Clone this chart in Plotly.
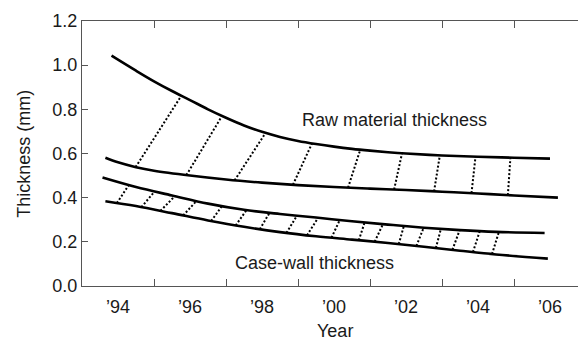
import numpy as np
import plotly.graph_objects as go

# Raw material thickness band (upper and lower edge), mm by year
raw_top_year = [1993.82, 1994.5, 1995.0, 1995.5, 1996.0, 1996.5, 1997.0, 1997.5, 1998.0,
                1998.5, 1999.0, 1999.5, 2000.0, 2000.5, 2001.0, 2001.5, 2002.0, 2003.0,
                2004.0, 2005.0, 2006.0]
raw_top_val = [1.043, 0.975, 0.927, 0.883, 0.842, 0.800, 0.762, 0.727, 0.698,
               0.675, 0.657, 0.643, 0.631, 0.621, 0.613, 0.606, 0.600, 0.591,
               0.585, 0.581, 0.577]

raw_bot_year = [1993.65, 1994.0, 1994.5, 1995.0, 1996.0, 1997.0, 1998.0, 1999.0, 2000.0,
                2001.0, 2002.0, 2003.0, 2004.0, 2005.0, 2006.22]
raw_bot_val = [0.581, 0.560, 0.538, 0.522, 0.500, 0.482, 0.468, 0.457, 0.448,
               0.441, 0.435, 0.427, 0.419, 0.410, 0.400]

# Case-wall thickness band (upper and lower edge)
case_top_year = [1993.57, 1994.5, 1995.5, 1996.5, 1997.5, 1998.5, 1999.5, 2000.5,
                 2001.5, 2002.5, 2003.5, 2004.5, 2005.85]
case_top_val = [0.491, 0.448, 0.410, 0.373, 0.345, 0.326, 0.310, 0.293,
                0.278, 0.264, 0.253, 0.245, 0.240]

case_bot_year = [1993.65, 1994.5, 1995.5, 1996.5, 1997.5, 1998.5, 1999.5, 2000.5,
                 2001.5, 2002.5, 2003.5, 2004.5, 2005.94]
case_bot_val = [0.384, 0.362, 0.330, 0.297, 0.268, 0.244, 0.225, 0.210,
                0.195, 0.178, 0.160, 0.143, 0.124]

# Dotted connectors: year on the lower edge -> year on the upper edge
raw_link_from = [1994.49, 1995.90, 1997.24, 1998.86, 2000.39, 2001.67, 2002.78, 2003.82, 2004.83]
raw_link_to = [1995.76, 1996.89, 1998.10, 1999.39, 2000.73, 2001.89, 2002.94, 2003.93, 2004.90]

case_link_from = [1993.97, 1994.65, 1995.18, 1995.81, 1996.59, 1997.27, 1997.94, 1998.68,
                  1999.25, 1999.93, 2000.69, 2001.13, 2001.80, 2002.29, 2002.83, 2003.29,
                  2003.86, 2004.39]
case_link_to = [1994.30, 1995.02, 1995.58, 1996.18, 1996.89, 1997.57, 1998.21, 1998.97,
                1999.56, 2000.16, 2000.85, 2001.36, 2001.94, 2002.49, 2002.97, 2003.49,
                2004.05, 2004.58]

label_years = list(range(1994, 2007, 2))
label_text = ["\u2019%02d" % (y % 100) for y in label_years]
tick_years = list(range(1995, 2006, 2))
y_ticks = [0.0, 0.2, 0.4, 0.6, 0.8, 1.0, 1.2]

FONT = "Liberation Sans, Arial, sans-serif"
TXT = "#1a1a1a"
AX = "#555555"

fig = go.Figure()


def links(lo_year, lo_val, hi_year, hi_val, frm, to):
    xs, ys = [], []
    for a, b in zip(frm, to):
        xs += [a, b, None]
        ys += [float(np.interp(a, lo_year, lo_val)), float(np.interp(b, hi_year, hi_val)), None]
    return xs, ys


for (ly, lv, hy, hv, f, t) in [
    (raw_bot_year, raw_bot_val, raw_top_year, raw_top_val, raw_link_from, raw_link_to),
    (case_bot_year, case_bot_val, case_top_year, case_top_val, case_link_from, case_link_to),
]:
    xs, ys = links(ly, lv, hy, hv, f, t)
    fig.add_trace(go.Scatter(x=xs, y=ys, mode="lines", hoverinfo="skip",
                             line=dict(color="black", width=2, dash="2px,2px")))

for xs, ys in [(raw_top_year, raw_top_val), (raw_bot_year, raw_bot_val),
               (case_top_year, case_top_val), (case_bot_year, case_bot_val)]:
    fig.add_trace(go.Scatter(x=xs, y=ys, mode="lines",
                             line=dict(color="black", width=2.6, shape="spline", smoothing=1.0)))

# invisible trace so the top axis gets drawn
fig.add_trace(go.Scatter(x=[1993], y=[0], xaxis="x2", mode="markers",
                         marker=dict(opacity=0), hoverinfo="skip"))

x_range = [1993, 1993 + 496 / 36]

fig.update_layout(
    width=578, height=342,
    margin=dict(l=82, r=0, t=21, b=56),
    paper_bgcolor="white", plot_bgcolor="white",
    showlegend=False,
    font=dict(family=FONT, size=18, color=TXT),
    xaxis=dict(range=x_range, tickmode="array", tickvals=label_years, ticktext=label_text,
               ticks="", showgrid=False, zeroline=False, showline=True,
               linecolor=AX, linewidth=1.4, ticklabelstandoff=4,
               minor=dict(tickmode="array", tickvals=tick_years, ticks="inside",
                          ticklen=7, tickwidth=1.4, tickcolor=AX, showgrid=False)),
    xaxis2=dict(range=x_range, overlaying="x", side="top", anchor="y",
                tickmode="array", tickvals=tick_years, ticks="inside", ticklen=7,
                tickwidth=1.4, tickcolor=AX, showticklabels=False, showgrid=False,
                zeroline=False, showline=True, linecolor=AX, linewidth=1.4),
    yaxis=dict(range=[0, 1.2], tickmode="array", tickvals=y_ticks, tickformat=".1f",
               ticks="inside", ticklen=6, tickwidth=1.4, tickcolor=AX,
               showgrid=False, zeroline=False, showline=True, linecolor=AX, linewidth=1.4),
    annotations=[
        dict(text="Raw material thickness", x=2001.69, y=0.75, xref="x", yref="y",
             showarrow=False, xanchor="center", yanchor="middle"),
        dict(text="Case-wall thickness", x=1999.46, y=0.105, xref="x", yref="y",
             showarrow=False, xanchor="center", yanchor="middle"),
        dict(text="Year", x=(335 - 82) / 496, y=(285.7 - 331) / 265, xref="paper", yref="paper",
             showarrow=False, xanchor="center", yanchor="middle"),
        dict(text="Thickness (mm)", x=(23.3 - 82) / 496, y=0.5, xref="paper", yref="paper",
             showarrow=False, xanchor="center", yanchor="middle", textangle=-90),
    ],
)

fig.write_html("out.html")
